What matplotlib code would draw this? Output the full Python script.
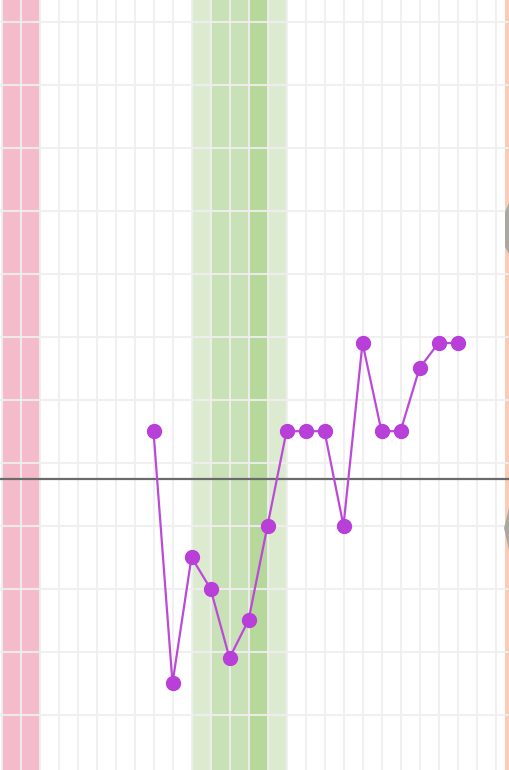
import numpy as np
import matplotlib.pyplot as plt
from matplotlib.patches import Polygon

# temperature readings by cycle day (column index on the chart)
days = list(range(8, 25))
temps = [36.65, 36.25, 36.45, 36.40, 36.29, 36.35, 36.50, 36.65, 36.65,
         36.65, 36.50, 36.79, 36.65, 36.65, 36.75, 36.79, 36.79]
coverline = 36.574

# shaded day columns: (start, end, colour)
bands = [
    (0, 2, '#f4bccb'),
    (10, 11, '#dcebd0'),
    (11, 12, '#c9e1b6'),
    (12, 13, '#c9e1b6'),
    (13, 14, '#b6d89b'),
    (14, 15, '#dcebd0'),
    (26.5, 27.5, '#f9cbb8'),
]

W, H = 509, 770
fig = plt.figure(figsize=(W / 100, H / 100), dpi=100)
ax = fig.add_axes([0, 0, 1, 1])

x_lo, x_hi = -1.5 / 19, (W - 1.5) / 19
y_top = 36.6 + 462.7 / 630
y_bot = 36.6 - (H - 462.7) / 630
ax.set_xlim(x_lo, x_hi)
ax.set_ylim(y_bot, y_top)
ax.axis('off')

for a, b, c in bands:
    ax.axvspan(a, b, color=c, lw=0, zorder=1)

# grid on top of the bands
for k in range(0, 27):
    ax.axvline(k, color='#efefef', lw=1.5, alpha=0.9, zorder=2)
for t in np.arange(36.2, 37.35, 0.1):
    ax.axhline(t, color='#efefef', lw=1.5, alpha=0.9, zorder=2)

ax.axhline(coverline, color='#6b6b6b', lw=1.6, zorder=3)

ax.plot(days, temps, color='#bb4ad8', lw=1.6, marker='o', ms=10,
        mfc='#b83fd8', mec='#b83fd8', zorder=4)

# partial gray widgets on the right edge
ax.add_patch(Polygon([(505 / W, 1 - 212 / H), (509 / W, 1 - 203 / H),
                      (509 / W, 1 - 254 / H), (505 / W, 1 - 247 / H)],
                     closed=True, transform=ax.transAxes, color='#a9a9a2',
                     lw=0, zorder=5))
ax.add_patch(Polygon([(504 / W, 1 - 528 / H), (509 / W, 1 - 508 / H),
                      (509 / W, 1 - 550 / H)],
                     closed=True, transform=ax.transAxes, color='#a9a9a2',
                     lw=0, zorder=5))

fig.savefig('out.png', dpi=100)
